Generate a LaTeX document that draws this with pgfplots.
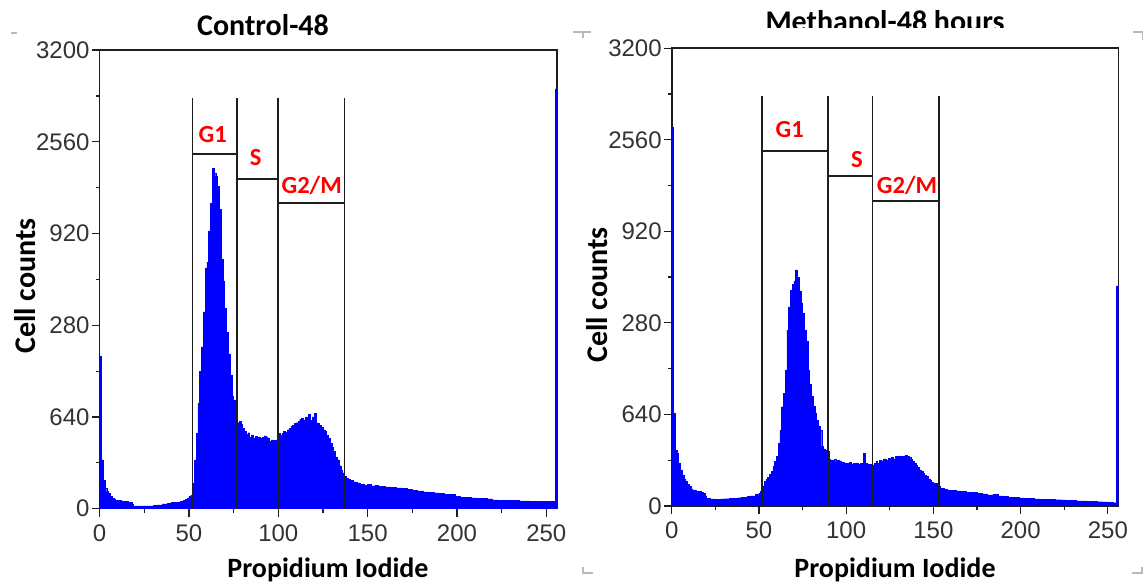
\documentclass[border=0pt]{standalone}
\usepackage{fontspec}
\setmainfont{Carlito}
\newfontfamily\tickfont{Liberation Sans}
\usepackage{pgfplots}
\usepackage{pgfplotstable}
\pgfplotsset{compat=1.18}

% DNA content histograms (channel : events)
\pgfplotstableread{
x y
0 1066
1 340
2 200
3 140
4 120
5 107
6 85
7 70
8 65
9 60
10 56
12 52
14 49
16 45
18 30
19 20
22 19
25 19
28 20
30 23
32 27
35 33
38 36
40 42
42 45
45 49
47 58
48 65
49 75
50 88
51 95
52 177
53 340
54 525
55 735
56 956
57 1130
58 1373
59 1680
60 1720
61 1938
62 2133
63 2377
64 2342
65 2320
66 2250
67 2090
68 1743
69 1590
70 1400
71 1230
72 1080
73 930
74 788
75 760
76 613
77 600
78 610
79 590
80 560
81 540
82 520
83 530
84 500
85 515
86 490
87 505
88 430
89 500
90 495
91 500
92 508
93 500
94 495
95 470
96 480
97 478
98 470
99 480
100 525
101 510
102 525
103 540
104 535
105 550
106 560
107 575
108 580
109 595
110 600
111 610
112 625
113 630
114 620
115 640
116 635
117 660
118 615
119 640
120 664
121 600
122 595
123 580
124 570
125 550
126 540
127 510
128 490
129 455
130 430
131 400
132 362
133 340
134 300
135 270
136 250
137 225
138 211
139 205
140 200
142 188
144 180
146 172
148 165
150 172
152 160
154 165
156 155
158 158
160 153
163 150
166 145
169 140
172 135
175 130
178 125
181 118
184 115
187 110
190 105
193 102
196 100
199 88
202 79
205 80
208 75
211 72
214 70
217 68
220 62
223 60
226 58
229 57
232 56
235 55
238 54
241 52
244 51
247 50
250 50
254 49
255 2930
256 2930
}\controldata

\pgfplotstableread{
x y
0 2650
1 650
2 391
3 370
4 300
5 252
6 217
7 190
8 170
9 150
10 135
11 120
12 112
13 112
14 100
15 102
16 100
17 95
18 89
19 70
20 54
22 50
25 47
28 50
30 51
33 53
35 54
38 58
40 61
43 65
45 70
48 80
50 89
51 100
52 140
53 170
54 185
55 200
56 220
57 240
58 275
59 310
60 345
61 438
62 531
63 694
64 788
65 950
66 1230
67 1391
68 1509
69 1550
70 1573
71 1650
72 1600
73 1503
74 1420
75 1350
76 1230
77 1150
78 950
79 850
80 770
81 700
82 650
83 601
84 560
85 531
86 415
87 400
88 390
89 380
90 325
91 320
92 318
93 325
94 310
95 318
96 315
97 300
98 305
99 298
100 300
101 298
102 305
103 295
104 300
105 298
106 302
107 290
108 298
109 300
110 368
111 300
112 295
113 290
114 292
115 287
116 300
117 310
118 300
119 321
120 315
121 325
122 330
123 320
124 335
125 333
126 340
127 330
128 345
129 340
130 350
131 345
132 348
133 350
134 352
135 345
136 340
137 330
138 310
139 300
140 285
141 270
142 252
143 240
144 230
145 215
146 205
147 190
148 180
149 165
150 158
152 140
154 123
156 115
158 110
160 107
163 105
166 100
169 95
172 93
175 90
178 85
181 77
184 80
187 70
190 65
193 61
196 60
199 57
202 54
205 54
208 50
211 48
214 47
217 45
220 44
223 42
226 40
229 38
232 36
235 35
238 33
241 32
244 30
247 28
250 25
253 23
255 1538
256 1538
}\methanoldata

\definecolor{gatered}{RGB}{255,0,0}
\definecolor{histblue}{RGB}{0,0,255}
\definecolor{frame}{RGB}{30,30,30}

\tikzset{
  gate/.style={line width=0.8pt, frame},
  gatelabel/.style={text=gatered, font=\bfseries\fontsize{12.3}{13}\selectfont},
}

\pgfplotsset{
  flowaxis/.style={
    scale only axis,
    anchor=south west,
    xmin=0, xmax=256, ymin=0, ymax=3200,
    axis line style={line width=0.8pt, frame},
    xtick={0,50,100,150,200,250},
    xticklabels={0,50,100,150,200,250},
    minor xtick={25,75,125,175,225},
    ytick={0,640,1280,1920,2560,3200},
    yticklabels={0,640,280,920,2560,3200},
    minor ytick={320,960,1600,2240,2880},
    tick align=outside,
    xtick pos=bottom, ytick pos=left,
    major tick length=4pt, minor tick length=2pt,
    major tick style={line width=0.6pt, frame},
    minor tick style={line width=0.6pt, frame},
    ticklabel style={font=\tickfont\fontsize{12}{13}\selectfont, text=black!80},
    xticklabel style={yshift=-0.5pt},
    yticklabel style={xshift=2.5pt},
    clip=true,
  },
  hist/.style={fill=histblue, draw=histblue, line width=0.2pt, const plot mark left},
}

\begin{document}
\begin{tikzpicture}
\path[use as bounding box] (0pt,0pt) rectangle (571.5pt,291pt);

% ---------------- Control ----------------
\begin{axis}[flowaxis, at={(49.8pt,36.65pt)}, width=228.7pt, height=229.3pt]
  \addplot[hist] table[x=x, y=y] {\controldata} \closedcycle;
  % phase gates
  \draw[gate] (axis cs:51.9,0) -- (axis cs:51.9,2865);
  \draw[gate] (axis cs:77,0) -- (axis cs:77,2865);
  \draw[gate] (axis cs:99.8,0) -- (axis cs:99.8,2865);
  \draw[gate] (axis cs:137,0) -- (axis cs:137,2865);
  \draw[gate] (axis cs:51.9,2475) -- (axis cs:77,2475);
  \draw[gate] (axis cs:77,2300) -- (axis cs:99.8,2300);
  \draw[gate] (axis cs:99.8,2133) -- (axis cs:137,2133);
  \node[gatelabel] at (axis cs:63.3,2614) {G1};
  \node[gatelabel] at (axis cs:87.4,2447) {S};
  \node[gatelabel] at (axis cs:118.7,2258) {G2/M};
\end{axis}

% ---------------- Methanol ----------------
\begin{axis}[flowaxis, at={(335.85pt,38pt)}, width=223.3pt, height=228.9pt]
  \addplot[hist] table[x=x, y=y] {\methanoldata} \closedcycle;
  \draw[gate] (axis cs:51.8,0) -- (axis cs:51.8,2865);
  \draw[gate] (axis cs:89.7,0) -- (axis cs:89.7,2865);
  \draw[gate] (axis cs:115,0) -- (axis cs:115,2865);
  \draw[gate] (axis cs:153.1,0) -- (axis cs:153.1,2865);
  \draw[gate] (axis cs:51.8,2480) -- (axis cs:89.7,2480);
  \draw[gate] (axis cs:89.7,2306) -- (axis cs:115,2306);
  \draw[gate] (axis cs:115,2131) -- (axis cs:153.1,2131);
  \node[gatelabel] at (axis cs:67.7,2635) {G1};
  \node[gatelabel] at (axis cs:106.2,2425) {S};
  \node[gatelabel] at (axis cs:134.9,2244) {G2/M};
\end{axis}

% titles
\node[anchor=base, font=\bfseries\fontsize{15}{16}\selectfont] at (131.5pt,273pt) {Control-48};
\begin{scope}
  \clip (330pt,277pt) rectangle (560pt,291pt);
  \node[anchor=base, font=\bfseries\fontsize{15}{16}\selectfont] at (442.5pt,275pt) {Methanol-48 hours};
\end{scope}

% axis titles
\node[rotate=90, font=\bfseries\fontsize{15}{16}\selectfont] at (12.5pt,148pt) {Cell counts};
\node[rotate=90, font=\bfseries\fontsize{15}{16}\selectfont] at (298.5pt,143.5pt) {Cell counts};
\node[anchor=base, font=\bfseries\fontsize{14}{15}\selectfont] at (164pt,2pt) {Propidium Iodide};
\node[anchor=base, font=\bfseries\fontsize{14}{15}\selectfont] at (447.5pt,2pt) {Propidium Iodide};

% page corner marks
\begin{scope}[gray!55, line width=0.6pt]
  \draw (5.5pt,274.5pt) -- (8.5pt,274.5pt);
  \draw (286.5pt,275pt) -- (295.5pt,275pt) (291.5pt,275pt) -- (291.5pt,272pt);
  \draw (566.5pt,275pt) -- (571.5pt,275pt) -- (571.5pt,271pt);
  \draw (291.5pt,7.5pt) -- (291.5pt,4.5pt) -- (296.5pt,4.5pt);
  \draw (566pt,4.5pt) -- (571pt,4.5pt) -- (571pt,7.5pt);
\end{scope}
\end{tikzpicture}
\end{document}
